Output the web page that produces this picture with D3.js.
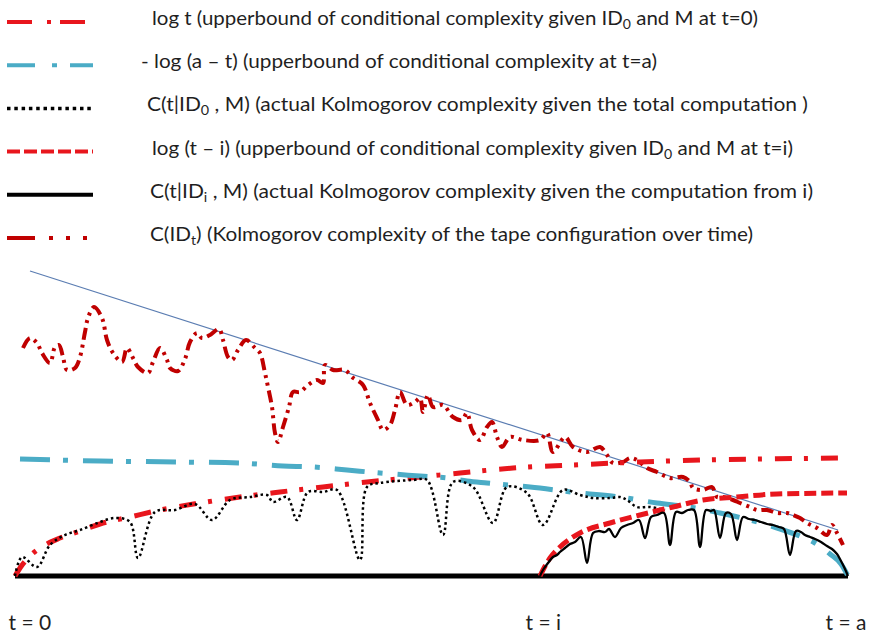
<html>
<head>
    <script src="https://d3js.org/d3.v7.min.js"></script>
</head>
<body style="margin:0;background:#fff">
    <svg id="kc" width="875" height="634"></svg>
</body>
<style>
    text{font-family: Lato, "Open Sans", sans-serif; fill:#1f1f1f}
</style>
<script>

    // time runs from t=0 to t=a, the second start is at t=i (arbitrary units)
    const tI = 525
    const tA = 833

    // [t, complexity] points
    const logT = [[0,0],[5,8],[15,20],[30,31],[45,38],[65,45],[85,52],[115,59],[145,66],[185,73],[225,79],[265,84],
                  [308,89],[352,94],[405,99],[445,103],[498,108],[558,111],[625,114],[685,116],[745,117],[833,118]]

    const logAminusT = [[5,117],[85,115],[162,114],[225,113],[268,110],[298,109],[332,106],[365,103],[405,100],[432,98],
                        [452,95],[472,93],[515,89],[565,83],[605,79],[642,73],[675,69],[705,63],[735,56],[762,48],
                        [785,40],[800,33],[815,22],[826,12],[833,0]]

    const cGivenID0 = [[0,0],[7,19],[22,9],[35,31],[50,41],[65,46],[85,54],[100,58],[115,54],[123,18],[140,64],[160,66],
                       [180,72],[197,56],[215,76],[235,79],[252,81],[258,74],[272,79],[282,56],[293,84],[308,84],[322,86],
                       [345,16],[352,89],[365,93],[398,96],[412,96],[428,41],[438,94],[458,89],[478,53],[492,89],[512,83],
                       [528,51],[548,86],[565,81],[578,78],[595,78],[605,79],[612,76],[622,69],[635,69],[650,66]]

    const logTminusI = [[525,0],[528,6],[535,18],[545,29],[565,43],[595,53],[625,61],[658,69],[688,76],[722,79],[762,82],[832,83]]

    const cGivenIDi = [[525,0],[528,6],[533,13],[538,19],[542,21],[545,24],[550,28],[555,32],[560,34],[566,39],[572,13],
                       [578,43],[584,45],[590,44],[594,47],[600,39],[606,48],[612,51],[618,53],[624,56],[630,38],[636,59],
                       [642,61],[649,63],[655,31],[661,64],[667,63],[673,66],[679,66],[685,29],[691,66],[696,65],[699,66],
                       [705,38],[711,63],[716,62],[722,36],[728,59],[734,57],[740,56],[746,54],[752,52],[758,51],[764,49],
                       [769,47],[775,21],[781,45],[786,44],[790,41],[795,39],[800,37],[806,34],[812,30],[817,27],[822,22],
                       [826,15],[830,7],[833,0]]

    const cIDt = [[8,228],[15,238],[22,233],[27,223],[35,213],[40,229],[44,231],[48,219],[52,206],[60,208],[65,219],[70,244],
                  [73,258],[79,269],[87,258],[92,236],[98,223],[107,214],[112,228],[118,218],[123,209],[133,203],[138,214],
                  [145,228],[152,216],[155,208],[163,205],[170,217],[175,234],[182,243],[187,238],[195,241],[204,247],
                  [208,236],[213,219],[217,216],[223,226],[231,236],[240,228],[245,223],[250,203],[253,189],[257,169],
                  [260,143],[263,134],[268,149],[274,169],[278,184],[285,184],[293,191],[302,196],[308,193],[310,211],
                  [318,206],[330,206],[337,199],[348,191],[355,173],[363,156],[368,146],[375,151],[380,166],[385,184],
                  [392,171],[400,174],[405,178],[408,164],[413,181],[418,169],[428,171],[438,159],[447,156],[452,163],
                  [457,146],[465,136],[472,149],[477,154],[482,139],[487,129],[495,139],[508,136],[525,136],[532,143],
                  [538,124],[550,139],[558,129],[572,124],[585,129],[592,121],[598,113],[608,114],[615,118],[622,116],
                  [632,108],[642,104],[655,98],[668,99],[675,94],[678,88],[688,86],[697,89],[702,79],[708,79],[718,76],
                  [725,73],[735,69],[742,66],[752,66],[762,63],[772,63],[778,61],[785,58],[792,53],[802,48],[812,41],
                  [817,51],[822,43],[828,31]]

    // thin straight trend line over C(ID_t)
    const trendLine = [[15,305],[823,46]]

    const tickValues = [0, tI, tA]
    const tickLabels = ['t = 0', 't = i', 't = a']

    // "_x" marks a subscript character
    const legendLabels = [
        'log t (upperbound  of conditional complexity given ID_0  and M at t=0)',
        '- log (a \u2013 t) (upperbound  of conditional complexity at t=a)',
        'C(t|ID_0 , M) (actual Kolmogorov  complexity given the total computation )',
        'log (t \u2013 i) (upperbound  of conditional complexity given ID_0 and M at t=i)',
        'C(t|ID_i , M) (actual Kolmogorov  complexity given the computation from i)',
        'C(ID_t) (Kolmogorov  complexity of the tape configuration over time)'
    ]

    let svg = d3.select('svg#kc')

    let x = d3.scaleLinear().domain([0, tA]).range([15, 848])
    let y = d3.scaleLinear().domain([0, 320]).range([576, 256])

    const red = '#e8161d', darkRed = '#c00000', aqua = '#4bacc6'

    // legend: line sample, label start x, label width
    const legendStyle = [
        {stroke: red, w: 4, dash: '25,15,4,9', tx: 152, len: 606},
        {stroke: aqua, w: 4, dash: '28,17,5,13', tx: 141, len: 516},
        {stroke: '#000', w: 3.5, dash: '3.5,3.8', tx: 147, len: 661},
        {stroke: red, w: 4, dash: '13,4,13,4,13,4,13,4,13,4,3', tx: 152, len: 641},
        {stroke: '#000', w: 4, dash: null, tx: 150, len: 663},
        {stroke: darkRed, w: 4, dash: '28,14,4,13,4,13,4', tx: 150, len: 603}
    ]

    let legend = svg.append('g')
    legendLabels.forEach((lab, i) => {
        const st = legendStyle[i]
        const ly = 22 + i * 43.2
        legend.append('line')
              .attr('x1', 7).attr('x2', 93)
              .attr('y1', ly).attr('y2', ly)
              .attr('stroke', st.stroke)
              .attr('stroke-width', st.w)
              .attr('stroke-dasharray', st.dash)
        let txt = legend.append('text')
              .attr('x', st.tx)
              .attr('y', ly + 3)
              .attr('font-size', '19px')
              .attr('textLength', st.len)
              .attr('lengthAdjust', 'spacingAndGlyphs')
        const parts = lab.split(/_(.)/)
        parts.forEach((p, k) => {
            if (k % 2 === 1) {
                txt.append('tspan').attr('dy', 4).attr('font-size', '13px').text(p)
            } else if (k > 0) {
                txt.append('tspan').attr('dy', -4).text(p)
            } else {
                txt.append('tspan').text(p)
            }
        })
    })

    let plot = svg.append('g')

    let smooth = d3.line().x(d => x(d[0])).y(d => y(d[1])).curve(d3.curveMonotoneX)
    let wiggly = d3.line().x(d => x(d[0])).y(d => y(d[1])).curve(d3.curveCatmullRom)
    let straight = d3.line().x(d => x(d[0])).y(d => y(d[1]))

    // time axis
    plot.append('path')
        .attr('d', straight([[0,0],[tA,0]]))
        .attr('stroke', '#000')
        .attr('stroke-width', 5)
        .attr('fill', 'none')

    const series = [
        {data: trendLine, gen: straight, stroke: '#5b7db2', w: 1.2, dash: null},
        {data: cIDt, gen: wiggly, stroke: darkRed, w: 4, dash: '12,5,3,5,3,5'},
        {data: logT, gen: smooth, stroke: red, w: 5, dash: '17,12,4,13'},
        {data: logAminusT, gen: smooth, stroke: aqua, w: 5, dash: '30,13,5,15'},
        {data: cGivenID0, gen: wiggly, stroke: '#000', w: 2.5, dash: '2.5,3'},
        {data: logTminusI, gen: smooth, stroke: red, w: 5, dash: '12,5'},
        {data: cGivenIDi, gen: wiggly, stroke: '#000', w: 2.3, dash: null}
    ]

    plot.selectAll('path.series')
        .data(series)
        .join('path')
        .attr('class', 'series')
        .attr('d', d => d.gen(d.data))
        .attr('fill', 'none')
        .attr('stroke', d => d.stroke)
        .attr('stroke-width', d => d.w)
        .attr('stroke-dasharray', d => d.dash)
        .attr('stroke-linejoin', 'round')

    // t labels under the axis
    let xAxis = d3.axisBottom(x)
                  .tickValues(tickValues)
                  .tickFormat((d, i) => tickLabels[i])
                  .tickSize(0)
    let ax = svg.append('g')
                .attr('transform', 'translate(0,609)')
                .call(xAxis)
    ax.select('path.domain').remove()
    ax.selectAll('text')
      .attr('font-size', '21px')
      .attr('fill', '#1f1f1f')
      .attr('dy', '0.85em')
      .attr('font-family', 'Lato, sans-serif')
      .attr('text-anchor', 'start')
      .attr('dx', (d, i) => [-7, -15, -23][i])

</script>
</html>
